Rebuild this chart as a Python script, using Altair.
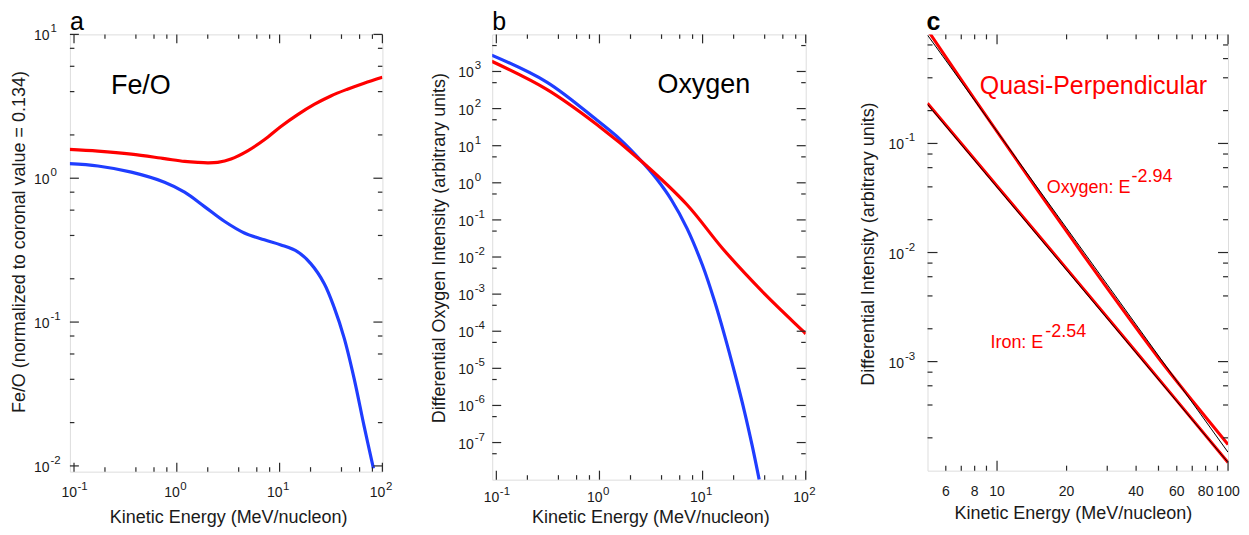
import altair as alt
import pandas as pd

FONT = "Liberation Sans"
RED = "#ff0000"
BLUE = "#1f3dff"
AXC = "#2a2a2a"
TXT = "#1a1a1a"

# ---------------- panel a : Fe/O ratio ----------------
a_red_E = [0.09, 0.171, 0.361, 0.759, 1.19, 1.60, 2.00, 2.50, 3.37, 4.89, 7.10, 10.3, 15.0, 21.7, 31.5, 45.7, 66.4, 100.0]
a_red_R = [1.585, 1.542, 1.469, 1.368, 1.310, 1.288, 1.280, 1.290, 1.360, 1.550, 1.850, 2.290, 2.767, 3.258, 3.733, 4.159, 4.581, 5.04]
a_blue_E = [0.09, 0.171, 0.361, 0.759, 1.19, 1.86, 2.90, 4.54, 7.10, 10.3, 15.0, 20.1, 27.2, 34.0, 42.5, 53.1, 66.4, 81.8]
a_blue_R = [1.262, 1.216, 1.102, 0.938, 0.800, 0.635, 0.502, 0.416, 0.373, 0.344, 0.308, 0.255, 0.185, 0.126, 0.0774, 0.0405, 0.0189, 0.0096]

# ---------------- panel b : oxygen spectra ----------------
b_blue_E = [0.0902, 0.3083, 0.9419, 1.585, 2.570, 3.548, 5.012, 7.079, 10.0, 13.03, 16.41, 20.65, 25.41, 30.20, 35.40]
b_blue_I = [2754, 517.6, 48.98, 14.8, 3.758, 1.318, 0.339, 0.0582, 0.00589, 6.61e-4, 7.41e-5, 6.92e-6, 7.08e-7, 8.51e-8, 1.0e-8]
b_red_E = [0.0902, 0.3083, 0.9419, 2.570, 7.031, 15.85, 40.18, 94.41, 100.0]
b_red_I = [1884, 329.6, 37.33, 3.758, 0.2606, 0.01622, 1e-3, 1e-4, 8.51e-5]

# ---------------- panel c : quasi-perpendicular ----------------
c_oxy_E = [5.0, 7.08, 10.0, 15.85, 28.2, 50.1, 70.8, 100.0]
c_oxy_I = [1.10, 0.3715, 0.1285, 0.0313, 0.00564, 0.001074, 0.000427, 0.000174]
c_iron_E = [5.0, 10.0, 19.95, 39.81, 100.0]
c_iron_I = [0.2333, 0.0407, 0.00716, 0.001245, 0.000119]
c_oxyfit_E = [5.0, 100.0]
c_oxyfit_I = [0.986, 1.476e-4]
c_ironfit_E = [5.0, 100.0]
c_ironfit_I = [0.228, 1.19e-4]

# tick positions / labels
dec_x_major = [0.1, 1, 10, 100]
dec_x_minor = [0.2, 0.4, 0.6, 0.8, 2, 4, 6, 8, 20, 40, 60, 80]
dec_x_exp = ["-1", "0", "1", "2"]
a_y_major = [0.01, 0.1, 1, 10]
a_y_minor = [0.02, 0.04, 0.06, 0.08, 0.2, 0.4, 0.6, 0.8, 2, 4, 6, 8]
a_y_exp = ["-2", "-1", "0", "1"]
b_y_major = [1e-7, 1e-6, 1e-5, 1e-4, 1e-3, 1e-2, 1e-1, 1, 10, 100, 1000]
b_y_minor = [5e-8, 5e-7, 5e-6, 5e-5, 5e-4, 5e-3, 5e-2, 0.5, 5, 50, 500, 5000]
b_y_exp = ["-7", "-6", "-5", "-4", "-3", "-2", "-1", "0", "1", "2", "3"]
c_x_major = [10, 100]
c_x_minor = [6, 7, 8, 9, 20, 30, 40, 50, 60, 70, 80, 90]
c_x_labels = [6, 8, 10, 20, 40, 60, 80, 100]
c_y_major = [1e-3, 1e-2, 1e-1]
c_y_minor = [2e-4, 4e-4, 6e-4, 8e-4, 2e-3, 4e-3, 6e-3, 8e-3, 2e-2, 4e-2, 6e-2, 8e-2, 0.2, 0.4, 0.6, 0.8]
c_y_exp = ["-3", "-2", "-1"]

XT = "Kinetic Energy (MeV/nucleon)"


def long_df(series):
    rows = []
    for name, col, E, V in series:
        for e, v in zip(E, V):
            rows.append({"E": e, "V": v, "s": name, "col": col})
    return pd.DataFrame(rows)


def curves(df, xs, ys, width, interp="catmull-rom"):
    return alt.Chart(df).mark_line(clip=True, interpolate=interp, strokeWidth=width).encode(
        x=alt.X("E:Q", scale=xs, axis=None),
        y=alt.Y("V:Q", scale=ys, axis=None),
        color=alt.Color("col:N", scale=None),
        detail="s:N",
    )


def tick_layers(xs, ys, W, H, xmaj, xmin, ymaj, ymin, Lmaj, Lmin):
    out = []
    for vals, L in ((xmaj, Lmaj), (xmin, Lmin)):
        base = alt.Chart(pd.DataFrame({"v": vals})).mark_rule(color=AXC, strokeWidth=1.2)
        out.append(base.encode(x=alt.X("v:Q", scale=xs, axis=None), y=alt.value(H), y2=alt.value(H - L)))
        out.append(base.encode(x=alt.X("v:Q", scale=xs, axis=None), y=alt.value(0), y2=alt.value(L)))
    for vals, L in ((ymaj, Lmaj), (ymin, Lmin)):
        base = alt.Chart(pd.DataFrame({"v": vals})).mark_rule(color=AXC, strokeWidth=1.2)
        out.append(base.encode(y=alt.Y("v:Q", scale=ys, axis=None), x=alt.value(0), x2=alt.value(L)))
        out.append(base.encode(y=alt.Y("v:Q", scale=ys, axis=None), x=alt.value(W), x2=alt.value(W - L)))
    return out


def xpow_labels(xs, vals, exps, H, off):
    df = pd.DataFrame({"v": vals, "e": exps})
    base = alt.Chart(df)
    t10 = base.mark_text(align="right", baseline="middle", font=FONT, fontSize=14, color=TXT, dx=3).encode(
        x=alt.X("v:Q", scale=xs, axis=None), y=alt.value(H + off), text=alt.value("10"))
    te = base.mark_text(align="left", baseline="middle", font=FONT, fontSize=11.5, color=TXT, dx=3.5, dy=-6).encode(
        x=alt.X("v:Q", scale=xs, axis=None), y=alt.value(H + off), text="e:N")
    return [t10, te]


def xplain_labels(xs, vals, H, off):
    df = pd.DataFrame({"v": vals, "t": [str(v) for v in vals]})
    return [alt.Chart(df).mark_text(align="center", baseline="middle", font=FONT, fontSize=14, color=TXT).encode(
        x=alt.X("v:Q", scale=xs, axis=None), y=alt.value(H + off), text="t:N")]


def ypow_labels(ys, vals, exps, left):
    df = pd.DataFrame({"v": vals, "e": exps})
    base = alt.Chart(df)
    t10 = base.mark_text(align="left", baseline="middle", font=FONT, fontSize=14, color=TXT, dy=2).encode(
        y=alt.Y("v:Q", scale=ys, axis=None), x=alt.value(left), text=alt.value("10"))
    te = base.mark_text(align="left", baseline="middle", font=FONT, fontSize=11.5, color=TXT, dy=-5).encode(
        y=alt.Y("v:Q", scale=ys, axis=None), x=alt.value(left + 16.5), text="e:N")
    return [t10, te]


def ptext(x, y, text, size, angle=0, align="center", baseline="alphabetic", bold=False, color=TXT):
    kw = dict(align=align, baseline=baseline, font=FONT, fontSize=size, color=color, text=text,
              fontWeight="bold" if bold else "normal")
    if angle:
        kw["angle"] = angle
    return alt.Chart(pd.DataFrame({"k": [0]})).mark_text(**kw).encode(x=alt.value(x), y=alt.value(y))


def note(xs, ys, E, V, text, size, color="black", dx=0, dy=0):
    return alt.Chart(pd.DataFrame({"E": [E], "V": [V]})).mark_text(
        align="left", baseline="alphabetic", font=FONT, fontSize=size, color=color, dx=dx, dy=dy, text=text
    ).encode(x=alt.X("E:Q", scale=xs, axis=None), y=alt.Y("V:Q", scale=ys, axis=None))


LET_Y = -4
LET_SIZE = 25

# ---------- panel a ----------
WA, HA = 313, 438
xa = alt.Scale(type="log", domain=[0.0912, 100], nice=False)
ya = alt.Scale(type="log", domain=[0.00912, 10], nice=False)
dfa = long_df([("red", RED, a_red_E, a_red_R), ("blue", BLUE, a_blue_E, a_blue_R)])
pa = alt.layer(
    curves(dfa, xa, ya, 3.2),
    *tick_layers(xa, ya, WA, HA, dec_x_major, dec_x_minor, a_y_major, a_y_minor, 9, 4.5),
    *xpow_labels(xa, dec_x_major, dec_x_exp, HA, 21),
    *ypow_labels(ya, a_y_major, a_y_exp, -36),
    ptext(159, HA + 51.5, XT, 18),
    ptext(-41, 208, "Fe/O (normalized to coronal value = 0.134)", 18, angle=270, baseline="bottom"),
    ptext(0, LET_Y, "a", LET_SIZE, align="left", color="black"),
    note(xa, ya, 0.2286, 3.876, "Fe/O", 27),
).properties(width=WA, height=HA)

# ---------- panel b ----------
WB, HB = 314, 446
xb = alt.Scale(type="log", domain=[0.0912, 100], nice=False)
yb = alt.Scale(type="log", domain=[1e-8, 1e4], nice=False)
dfb = long_df([("blue", BLUE, b_blue_E, b_blue_I), ("red", RED, b_red_E, b_red_I)])
pb = alt.layer(
    curves(dfb, xb, yb, 3.2),
    *tick_layers(xb, yb, WB, HB, dec_x_major, dec_x_minor, b_y_major, b_y_minor, 9, 4.5),
    *xpow_labels(xb, dec_x_major, dec_x_exp, HB, 18),
    *ypow_labels(yb, b_y_major, b_y_exp, -34),
    ptext(159, HB + 43.6, XT, 18),
    ptext(-43, 214, "Differential Oxygen Intensity (arbitrary units)", 18, angle=270, baseline="bottom"),
    ptext(0, LET_Y, "b", LET_SIZE, align="left", color="black"),
    note(xb, yb, 3.65, 263, "Oxygen", 27),
).properties(width=WB, height=HB)

# ---------- panel c ----------
WC, HC = 301, 437
xc = alt.Scale(type="log", domain=[5, 100], nice=False)
yc = alt.Scale(type="log", domain=[1e-4, 1], nice=False)
dfc_fit = long_df([("ofit", "#000000", c_oxyfit_E, c_oxyfit_I), ("ifit", "#000000", c_ironfit_E, c_ironfit_I)])
dfc = long_df([("oxy", RED, c_oxy_E, c_oxy_I), ("iron", RED, c_iron_E, c_iron_I)])
pc = alt.layer(
    curves(dfc, xc, yc, 3.0),
    curves(dfc_fit, xc, yc, 1.0, interp="linear"),
    *tick_layers(xc, yc, WC, HC, c_x_major, c_x_minor, c_y_major, c_y_minor, 10, 5),
    *xplain_labels(xc, c_x_labels, HC, 21),
    *ypow_labels(yc, c_y_major, c_y_exp, -39),
    ptext(146, HC + 48, XT, 18),
    ptext(-50, 210, "Differential Intensity (arbitrary units)", 18, angle=270, baseline="bottom"),
    ptext(-1, LET_Y, "c", LET_SIZE, align="left", bold=True, color="black"),
    note(xc, yc, 8.42, 0.287, "Quasi-Perpendicular", 25, RED),
    note(xc, yc, 16.4, 0.035, "Oxygen: E", 18, RED),
    note(xc, yc, 16.4, 0.035, "-2.94", 18, RED, dx=85, dy=-11),
    note(xc, yc, 9.36, 0.001327, "Iron: E", 18, RED),
    note(xc, yc, 9.36, 0.001327, "-2.54", 18, RED, dx=55, dy=-11),
).properties(width=WC, height=HC)

chart = alt.hconcat(alt.hconcat(pa, pb, spacing=37), pc, spacing=42).properties(
    padding={"left": 2, "top": 1, "right": 0, "bottom": 0}
).configure_view(stroke=AXC, strokeWidth=1.5).configure(font=FONT)

chart.save("out.html", embed_options={"renderer": "svg", "actions": False})
